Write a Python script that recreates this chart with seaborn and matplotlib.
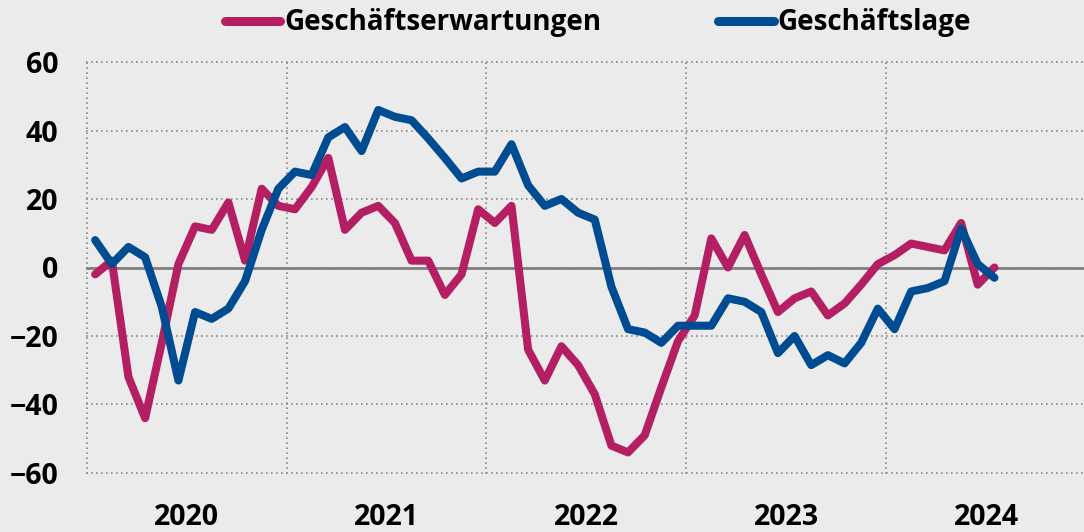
import numpy as np
import pandas as pd
import matplotlib
matplotlib.use("Agg")
import matplotlib.pyplot as plt
from matplotlib import font_manager
import seaborn as sns

# monthly survey balances, Jan 2020 - Jul 2024
erwartungen = [-2, 2, -32, -44, -22, 1, 12, 11, 19, 2, 23, 18,
               17, 23.5, 32, 11, 16, 18, 13, 2, 2, -8, -2, 17,
               13, 18, -24, -33, -23, -28.5, -37, -52, -54, -49, -35, -21.5,
               -14, 8.5, 0, 9.5, -2, -13, -9, -7, -14, -10.5, -5, 1,
               3.6, 7, 6, 5, 13, -5, 0]
lage = [8, 1, 6, 3, -11.5, -33, -13, -15, -12, -4, 11, 23,
        28, 27, 38, 41, 34, 46, 44, 43, 37.7, 32, 26, 28,
        28, 36, 24, 18, 20, 16, 14, -5.6, -18, -19, -22, -17,
        -17, -17, -9, -10, -13, -25, -20, -28.5, -25.6, -28, -22, -12,
        -18, -7, -6, -4, 11.4, 1, -3]
years = ["2020", "2021", "2022", "2023", "2024"]
series_names = ["Geschäftserwartungen", "Geschäftslage"]
colors = ["#b41f63", "#004c93"]

months = np.arange(len(lage)) + 0.5
df = pd.DataFrame({
    "month": np.concatenate([months, months]),
    "value": erwartungen + lage,
    "series": [series_names[0]] * len(erwartungen) + [series_names[1]] * len(lage),
})

# pick a family that really has a bold face installed
bold_fams = {f.name for f in font_manager.fontManager.ttflist
             if isinstance(f.weight, int) and f.weight >= 700 or f.weight in ("bold", "heavy", "black")}
family = "DejaVu Sans"
for cand in ["Open Sans", "Noto Sans", "Roboto", "Lato", "Inter", "Liberation Sans"]:
    if cand in bold_fams:
        family = cand
        break

bg = "#ebebeb"
sns.set_style("white")
plt.rcParams["font.family"] = [family, "DejaVu Sans"]
plt.rcParams["font.weight"] = "bold"
plt.rcParams["text.color"] = "black"
plt.rcParams["xtick.color"] = "black"
plt.rcParams["ytick.color"] = "black"

fig = plt.figure(figsize=(10.84, 5.32), dpi=100, facecolor=bg)
ax = fig.add_axes([86 / 1084, 1 - 474 / 532, 1000 / 1084, 413 / 532])
ax.set_facecolor(bg)

ax.axhline(0, color="#808080", lw=2, zorder=1)
sns.lineplot(data=df, x="month", y="value", hue="series", palette=colors,
             linewidth=5.8, ax=ax, legend=False, zorder=3,
             solid_capstyle="round", solid_joinstyle="round")

ax.set_xlim(-0.05, 59.95)
ax.set_ylim(-60.3, 60.3)
ax.set_yticks(np.arange(-60, 61, 20))
ax.set_xticks(np.arange(0, 61, 12))
ax.set_xticks(np.arange(6, 60, 12), minor=True)
ax.set_xticklabels([])
ax.set_xticklabels(years, minor=True)
for lab in ax.get_xticklabels(minor=True) + ax.get_yticklabels():
    lab.set_fontweight("bold")
    lab.set_color("black")
ax.grid(True, which="major", color="#8a8a8a", linestyle=(0, (1, 2)), linewidth=1.2)
ax.tick_params(axis="x", which="both", length=0, pad=21, labelsize=20.5)
ax.tick_params(axis="y", length=0, pad=20, labelsize=20.5)
for s in ax.spines.values():
    s.set_visible(False)
ax.set_xlabel("")
ax.set_ylabel("")

handles = [plt.Line2D([], [], color=c, lw=6.5, solid_capstyle="round") for c in colors]
fig.legend(handles, series_names, loc="center", bbox_to_anchor=(598 / 1084, 0.957),
           ncol=2, frameon=False, prop={"size": 20, "weight": "bold"},
           handlelength=2.0, handletextpad=0.15, columnspacing=4.2)

fig.savefig("out.png", dpi=100, facecolor=bg)
